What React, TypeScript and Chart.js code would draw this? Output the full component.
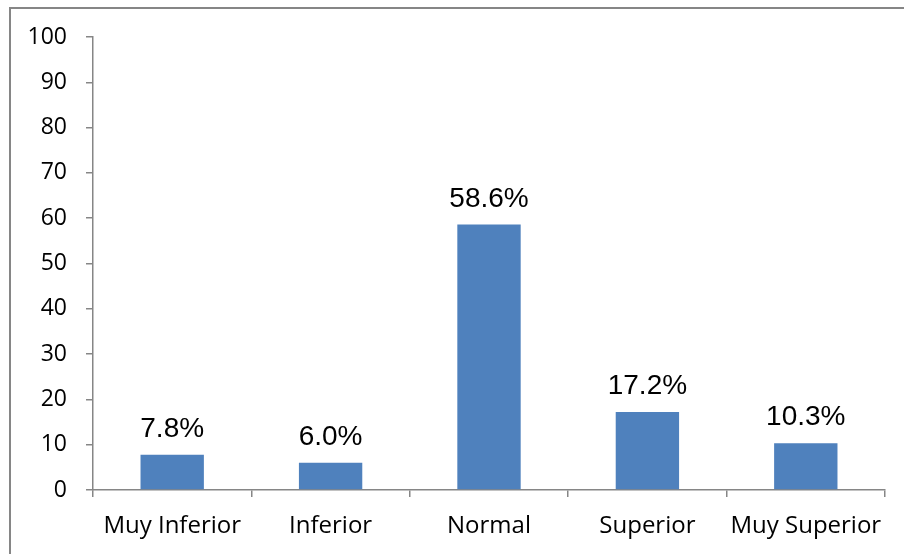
import React, { useEffect, useRef } from "react";
import { Chart, registerables } from "chart.js";

Chart.register(...registerables);

const categories = ["Muy Inferior", "Inferior", "Normal", "Superior", "Muy Superior"];
const values = [7.8, 6.0, 58.6, 17.2, 10.3];
const valueLabels = ["7.8%", "6.0%", "58.6%", "17.2%", "10.3%"];
const yTicks = [0, 10, 20, 30, 40, 50, 60, 70, 80, 90, 100];

const AXIS_COLOR = "#868686";
const BAR_COLOR = "#4F81BD";
const FONT = "'Open Sans', sans-serif";

const labelPlugin = {
  id: "valueLabels",
  afterDatasetsDraw(chart: any) {
    const ctx = chart.ctx;
    const meta = chart.getDatasetMeta(0);
    ctx.save();
    ctx.font = "28px 'Liberation Sans', Arial, sans-serif";
    ctx.fillStyle = "#000";
    ctx.textAlign = "center";
    ctx.textBaseline = "alphabetic";
    meta.data.forEach((bar: any, i: number) => {
      ctx.fillText(valueLabels[i], bar.x, bar.y - 18);
    });
    ctx.restore();
  },
};

export default function App() {
  const ref = useRef<HTMLCanvasElement | null>(null);

  useEffect(() => {
    if (!ref.current) return;
    const chart = new Chart(ref.current, {
      type: "bar",
      data: {
        labels: categories,
        datasets: [
          {
            data: values,
            backgroundColor: BAR_COLOR,
            borderWidth: 0,
            categoryPercentage: 0.4,
            barPercentage: 1,
          },
        ],
      },
      options: {
        animation: false,
        responsive: false,
        maintainAspectRatio: false,
        devicePixelRatio: 1,
        layout: { padding: { left: 27, top: 37, right: 19, bottom: 15 } },
        plugins: {
          legend: { display: false },
          tooltip: { enabled: false },
        },
        scales: {
          x: {
            offset: true,
            grid: {
              offset: true,
              drawOnChartArea: false,
              drawTicks: true,
              tickLength: 7,
              color: AXIS_COLOR,
              lineWidth: 1.5,
            },
            border: { color: AXIS_COLOR, width: 1.5 },
            ticks: {
              color: "#000",
              font: { family: FONT, size: 24 },
              padding: 15,
              maxRotation: 0,
              autoSkip: false,
            },
            afterFit(scale: any) {
              scale.height = 49;
            },
          },
          y: {
            min: 0,
            max: 100,
            afterBuildTicks(scale: any) {
              scale.ticks = yTicks.map((v) => ({ value: v }));
            },
            grid: {
              drawOnChartArea: false,
              drawTicks: true,
              tickLength: 7,
              color: AXIS_COLOR,
              lineWidth: 1.5,
            },
            border: { color: AXIS_COLOR, width: 1.5 },
            ticks: {
              color: "#000",
              font: { family: FONT, size: 23 },
              padding: 19,
            },
            afterFit(scale: any) {
              scale.width = 66;
            },
          },
        },
      },
      plugins: [labelPlugin],
    });
    return () => chart.destroy();
  }, []);

  return (
    <div
      style={{
        position: "fixed",
        left: 0,
        top: 0,
        width: 904,
        height: 554,
        overflow: "hidden",
        background: "#fff",
      }}
    >
      <div
        style={{
          position: "absolute",
          left: 9,
          top: 7,
          width: 1000,
          height: 1000,
          border: `2px solid ${AXIS_COLOR}`,
        }}
      />
      <canvas
        ref={ref}
        width={904}
        height={554}
        style={{ position: "absolute", left: 0, top: 0, width: 904, height: 554 }}
      />
    </div>
  );
}
